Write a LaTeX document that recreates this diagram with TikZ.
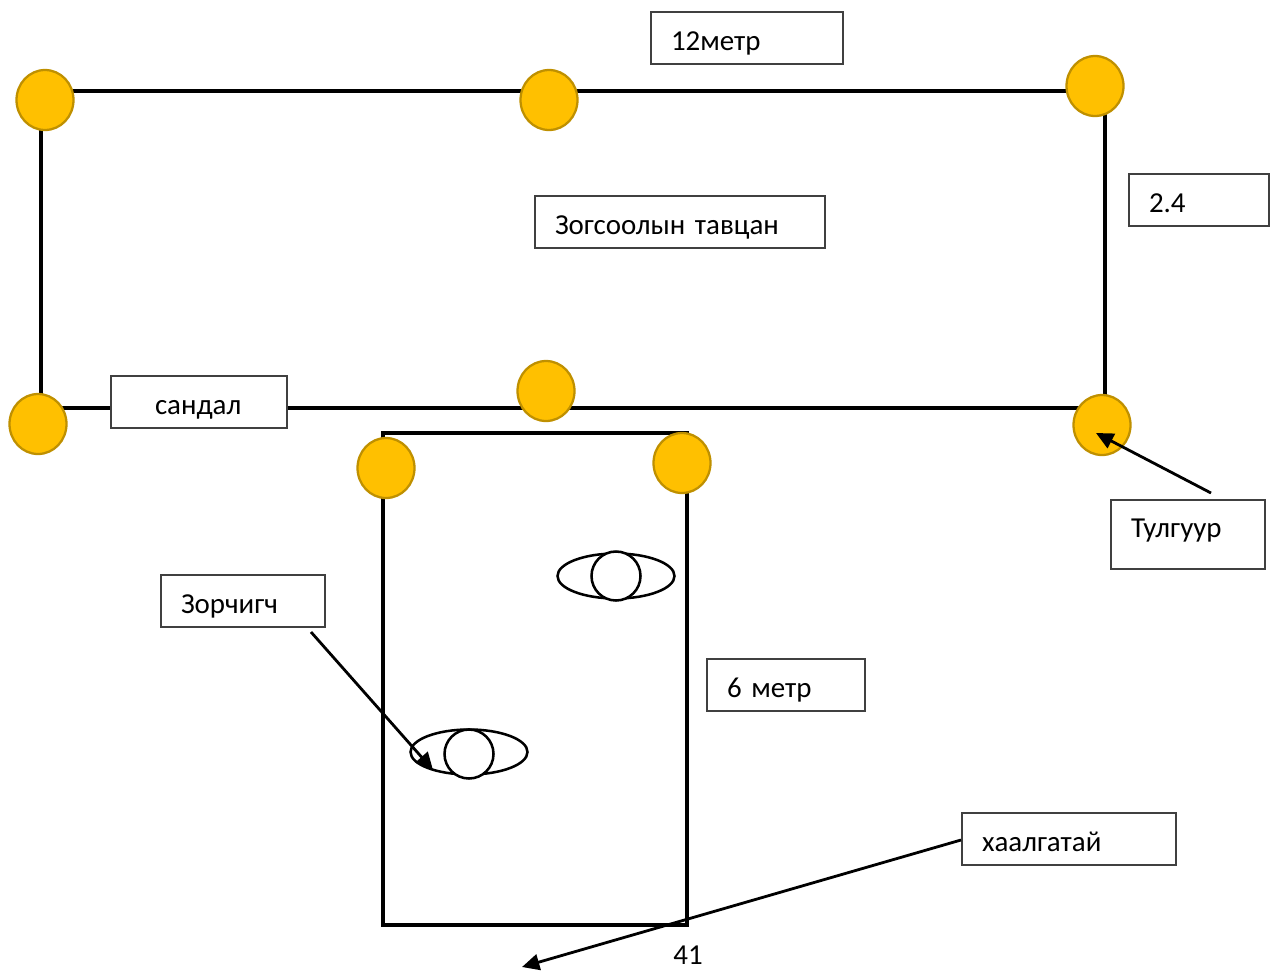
\documentclass[tikz,border=0pt]{standalone}
\usepackage{fontspec}
\setmainfont{Carlito}
\usetikzlibrary{arrows.meta,shapes.geometric}
\tikzset{
  px/.style={x=0.75pt,y=-0.75pt},
  wall/.style={draw=black,line width=2.3pt},
  post/.style={ellipse,draw=postedge,fill=postfill,line width=1.7pt,minimum width=57*0.75pt,minimum height=60*0.75pt,inner sep=0pt},
  lbl/.style n args={3}{rectangle,draw=boxedge,fill=white,line width=0.8pt,minimum width=#1*0.75pt,minimum height=#2*0.75pt,
    inner xsep=#3*0.75pt,inner ysep=0pt,text width=(#1-2*#3)*0.75pt,align=left,font=\fontsize{21.7}{26}\selectfont},
  bodyshape/.style={ellipse,draw=black,fill=white,line width=1.9pt,minimum width=117*0.75pt,minimum height=45*0.75pt,inner sep=0pt},
  headshape/.style={circle,draw=black,fill=white,line width=1.9pt,minimum size=49*0.75pt,inner sep=0pt},
  ptr/.style={draw=black,line width=2.1pt,-{Triangle[length=13pt,width=12pt]}}
}
\definecolor{postfill}{HTML}{FFC000}
\definecolor{postedge}{HTML}{BF9000}
\definecolor{boxedge}{HTML}{404040}
\begin{document}
\begin{tikzpicture}[px]
\useasboundingbox (0,0) rectangle (1271,971);
% structure
\draw[wall] (41,91) rectangle (1105,408);
\draw[wall] (383,433) rectangle (687,925);
% posts
\node[post] (p1) at (45,100) {};
\node[post] (p2) at (549,100) {};
\node[post] (p3) at (1095,86) {};
\node[post] (p4) at (546,391) {};
\node[post] (p5) at (1102,425) {};
\node[post] (p6) at (38,424) {};
\node[post] (p7) at (386,468) {};
\node[post] (p8) at (682,463) {};
% labels
\node[lbl={192}{52}{20}] (l12) at (747,38) {\smash{\raisebox{-9pt}{12метр}}};
\node[lbl={140}{52}{20}] (l24) at (1199,200) {\smash{\raisebox{-9pt}{2.4}}};
\node[lbl={290}{52}{20}] (lz) at (680,222) {\smash{\raisebox{-9pt}{Зогсоолын тавцан}}};
\node[lbl={176}{52}{44}] (ls) at (199,402) {\smash{\raisebox{-9pt}{сандал}}};
\node[lbl={164}{52}{20}] (lp) at (243,601) {\smash{\raisebox{-9pt}{Зорчигч}}};
\node[lbl={158}{52}{20}] (l6) at (786,685) {\smash{\raisebox{-9pt}{6 метр}}};
\node[lbl={214}{52}{20}] (lh) at (1069,839) {\smash{\raisebox{-9pt}{хаалгатай}}};
\node[lbl={154}{69}{20}] (lt) at (1188,534.5) {\smash{\raisebox{-2.25pt}{Тулгуур}}};
% passengers
\node[bodyshape] (b1) at (616,576) {};
\node[headshape] (h1) at (616,576) {};
\node[bodyshape] (b2) at (469,752) {};
\node[headshape] (h2) at (469,754) {};
% page number
\node[font=\fontsize{21.7}{26}\selectfont,inner sep=0pt] (pg) at (688,955) {41};
% pointers
\coordinate (a1s) at (311,632);
\coordinate (a1e) at (433,770);
\coordinate (a2s) at (1211,493);
\coordinate (a2e) at (1096,433);
\coordinate (a3s) at (961,840);
\coordinate (a3e) at (522,967);
\draw[ptr] (a1s) -- (a1e);
\draw[ptr] (a2s) -- (a2e);
\draw[ptr] (a3s) -- (a3e);
\end{tikzpicture}
\end{document}
